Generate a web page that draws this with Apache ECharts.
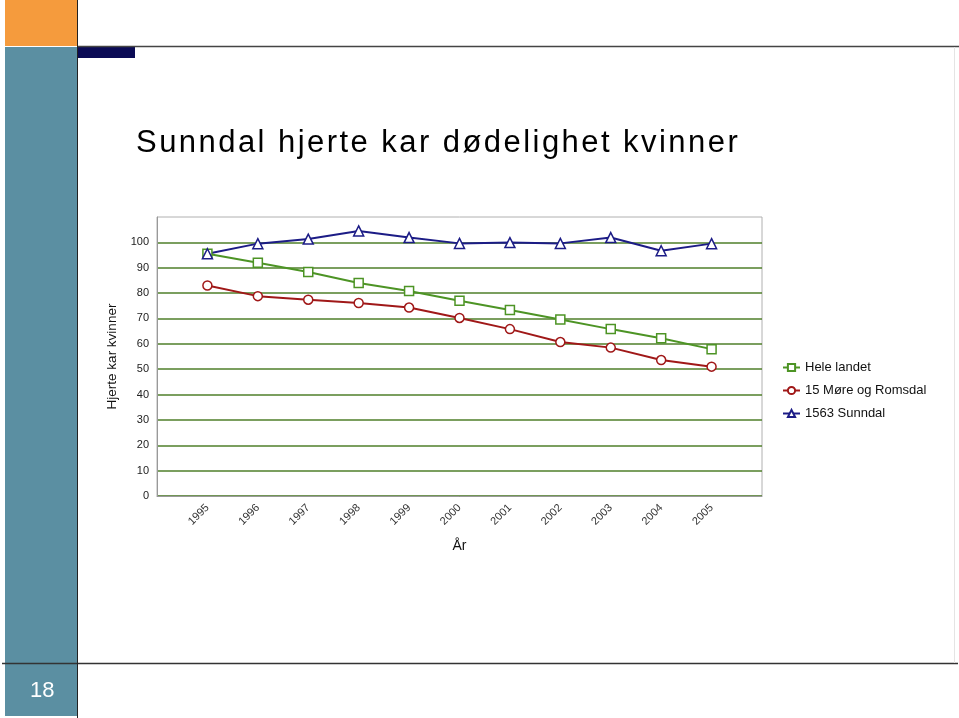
<!DOCTYPE html>
<html>
<head>
<meta charset="utf-8">
<script src="https://cdn.jsdelivr.net/npm/echarts@6/dist/echarts.min.js"></script>
<style>
html,body{margin:0;padding:0;background:#fff;}
#wrap{position:relative;width:959px;height:718px;}
#c{width:959px;height:718px;}
#title{position:absolute;left:136px;top:126px;font-family:'Liberation Sans',Arial,sans-serif;font-size:31px;line-height:31px;letter-spacing:2.45px;color:#000;white-space:nowrap;}
</style>
</head>
<body>
<div id="wrap">
<div id="c"></div>
<div id="title"></div>
</div>
<script>
const years = [1995,1996,1997,1998,1999,2000,2001,2002,2003,2004,2005];
const heleLandet = [95.5,92.0,88.3,84.0,80.8,77.0,73.3,69.6,65.8,62.2,57.9];
const moreRomsdal = [83.0,78.8,77.4,76.1,74.3,70.2,65.8,60.7,58.5,53.6,51.0];
const sunndal = [95.5,99.5,101.3,104.5,101.9,99.6,99.9,99.6,101.9,96.7,99.5];
const seriesNames = ['Hele landet','15 Møre og Romsdal','1563 Sunndal'];
const titleText = 'Sunndal hjerte kar dødelighet kvinner';
const yAxisName = 'Hjerte kar kvinner';
const xAxisName = 'År';
const pageNo = '18';

document.getElementById('title').textContent = titleText;
const pairs = arr => years.map((y,i)=>[y,arr[i]]);
const chart = echarts.init(document.getElementById('c'));
const gridColors = [];
for (let i=0;i<11;i++) gridColors.push('#4f7f2a');
gridColors.push('rgba(0,0,0,0)');

chart.setOption({
  animation:false,
  graphic:[
    {type:'rect',shape:{x:5,y:0,width:72,height:46},style:{fill:'#f59b3d'},z:-1},
    {type:'rect',shape:{x:5,y:47,width:72,height:669},style:{fill:'#5b8fa2'},z:-1},
    {type:'rect',shape:{x:78,y:47,width:57,height:11},style:{fill:'#0b0b55'},z:-1},
    {type:'line',shape:{x1:78,y1:46.5,x2:959,y2:46.5},style:{stroke:'#444',lineWidth:1.5},z:-1},
    {type:'line',shape:{x1:2,y1:663.5,x2:958,y2:663.5},style:{stroke:'#333',lineWidth:1.5},z:-1},
    {type:'line',shape:{x1:77.5,y1:0,x2:77.5,y2:718},style:{stroke:'#222',lineWidth:1},z:-1},
    {type:'line',shape:{x1:954.5,y1:47,x2:954.5,y2:663},style:{stroke:'#e4e4e4',lineWidth:1},z:-1},
    {type:'text',left:30,top:680,style:{text:pageNo,fill:'#fff',font:'22px Liberation Sans, Arial'}}
  ],
  legend:{orient:'vertical',left:777,top:356,itemGap:10,itemWidth:17,itemHeight:9,
    textStyle:{fontFamily:'Liberation Sans, Arial',fontSize:13,color:'#111'},data:seriesNames},
  grid:{left:157,top:217,right:197,bottom:222,show:true,borderColor:'#b0b0b0',borderWidth:1},
  xAxis:{type:'value',min:1994,max:2006,interval:1,
    name:xAxisName,nameLocation:'middle',nameGap:43,
    nameTextStyle:{fontFamily:'Liberation Sans, Arial',fontSize:14,color:'#111'},
    axisLine:{lineStyle:{color:'#999'}},axisTick:{show:false},splitLine:{show:false},
    axisLabel:{rotate:45,fontSize:11,color:'#333',fontFamily:'Liberation Sans, Arial',margin:10,
      formatter:v=>(v<1995||v>2005)?'':String(v)}},
  yAxis:{type:'value',min:0,max:110,interval:10,
    name:yAxisName,nameLocation:'middle',nameRotate:90,nameGap:31,
    nameTextStyle:{fontFamily:'Liberation Sans, Arial',fontSize:13.5,color:'#111'},
    axisLine:{show:true,lineStyle:{color:'#999'}},axisTick:{show:false},
    axisLabel:{fontSize:11,color:'#222',fontFamily:'Liberation Sans, Arial',margin:8,
      formatter:v=>v>100?'':String(v)},
    splitLine:{show:true,lineStyle:{color:gridColors,width:1.5}}},
  series:[
    {name:seriesNames[0],type:'line',data:pairs(heleLandet),symbol:'rect',symbolSize:9,
      lineStyle:{color:'#4d9425',width:2},itemStyle:{color:'#fff',borderColor:'#4d9425',borderWidth:1.5}},
    {name:seriesNames[1],type:'line',data:pairs(moreRomsdal),symbol:'circle',symbolSize:9,
      lineStyle:{color:'#a01818',width:2},itemStyle:{color:'#fff',borderColor:'#a01818',borderWidth:1.5}},
    {name:seriesNames[2],type:'line',data:pairs(sunndal),symbol:'triangle',symbolSize:10,
      lineStyle:{color:'#1c1c86',width:2},itemStyle:{color:'#fff',borderColor:'#1c1c86',borderWidth:1.5}}
  ]
});
</script>
</body>
</html>
